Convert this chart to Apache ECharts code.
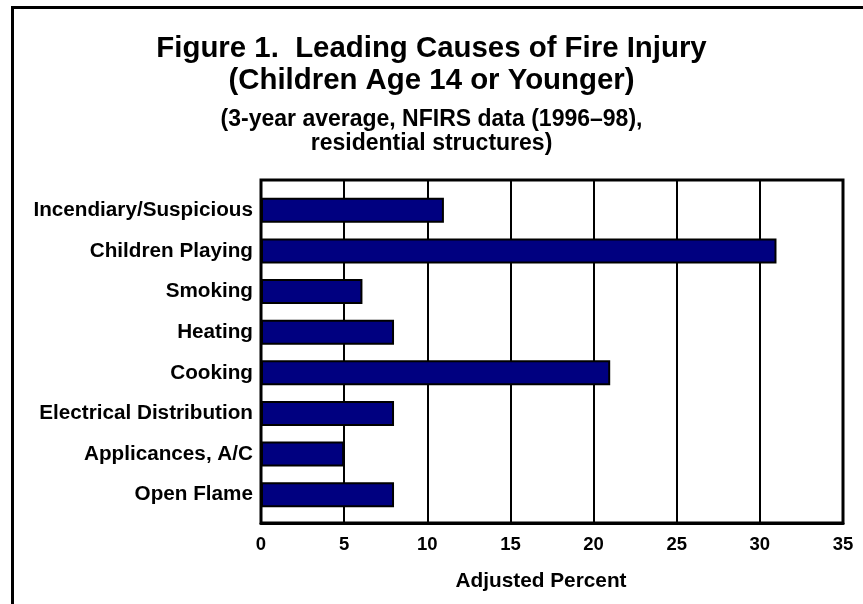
<!DOCTYPE html>
<html>
<head>
<meta charset="utf-8">
<script src="https://cdn.jsdelivr.net/npm/echarts@6/dist/echarts.min.js"></script>
<style>html,body{margin:0;padding:0;background:#fff}#c{width:863px;height:604px}</style>
</head>
<body>
<div id="c"></div>
<script>
const categories = ['Incendiary/Suspicious','Children Playing','Smoking','Heating','Cooking','Electrical Distribution','Applicances, A/C','Open Flame'];
const values = [11, 31, 6.1, 8, 21, 8, 5, 8];
const xTicks = [0, 5, 10, 15, 20, 25, 30, 35];
const titleText = 'Figure 1.  Leading Causes of Fire Injury\n(Children Age 14 or Younger)';
const subtitleText = '(3-year average, NFIRS data (1996\u201398),\nresidential structures)';
const xName = 'Adjusted Percent';

const FONT = '"Liberation Sans", Arial, sans-serif';
const chart = echarts.init(document.getElementById('c'), null, {renderer: 'canvas'});
chart.setOption({
  backgroundColor: '#fff',
  animation: false,
  title: [
    {text: titleText, left: 'center', top: 28,
     textStyle: {fontFamily: FONT, fontWeight: 'bold', fontSize: 29.4, lineHeight: 32, color: '#000', align: 'center'}},
    {text: subtitleText, left: 'center', top: 103,
     textStyle: {fontFamily: FONT, fontWeight: 'bold', fontSize: 23, lineHeight: 23.5, color: '#000', align: 'center'}}
  ],
  graphic: [{type: 'rect', left: 10, top: 5, shape: {width: 900, height: 700}, style: {fill: 'none', stroke: '#000', lineWidth: 3}}],
  grid: [
    {left: 261, right: 20, top: 180, bottom: 81, show: true, borderColor: '#000', borderWidth: 3, backgroundColor: 'transparent'},
    {left: 261, right: 20, top: 190, bottom: 89}
  ],
  xAxis: [
    {type: 'value', gridIndex: 0, min: xTicks[0], max: xTicks[xTicks.length-1], interval: 5,
     axisLine: {show: true, lineStyle: {color: '#000', width: 3}},
     axisTick: {show: false},
     splitLine: {show: true, lineStyle: {color: '#000', width: 2}},
     axisLabel: {fontFamily: FONT, fontWeight: 'bold', fontSize: 18.5, color: '#000', margin: 12},
     name: xName, nameLocation: 'middle', nameGap: 48,
     nameTextStyle: {fontFamily: FONT, fontWeight: 'bold', fontSize: 20.8, color: '#000', padding: [0, 22, 0, 0]}},
    {type: 'value', gridIndex: 1, min: xTicks[0], max: xTicks[xTicks.length-1], show: false}
  ],
  yAxis: [
    {type: 'value', gridIndex: 0, show: false, min: 0, max: 1},
    {type: 'category', gridIndex: 1, data: categories, inverse: true,
     axisLine: {show: false}, axisTick: {show: false}, splitLine: {show: false},
     axisLabel: {fontFamily: FONT, fontWeight: 'bold', fontSize: 20.7, color: '#000', margin: 8}}
  ],
  series: [{
    type: 'bar', xAxisIndex: 1, yAxisIndex: 1, data: values, barWidth: 25,
    itemStyle: {color: '#000080', borderColor: '#000', borderWidth: 2}
  }]
});
</script>
</body>
</html>
